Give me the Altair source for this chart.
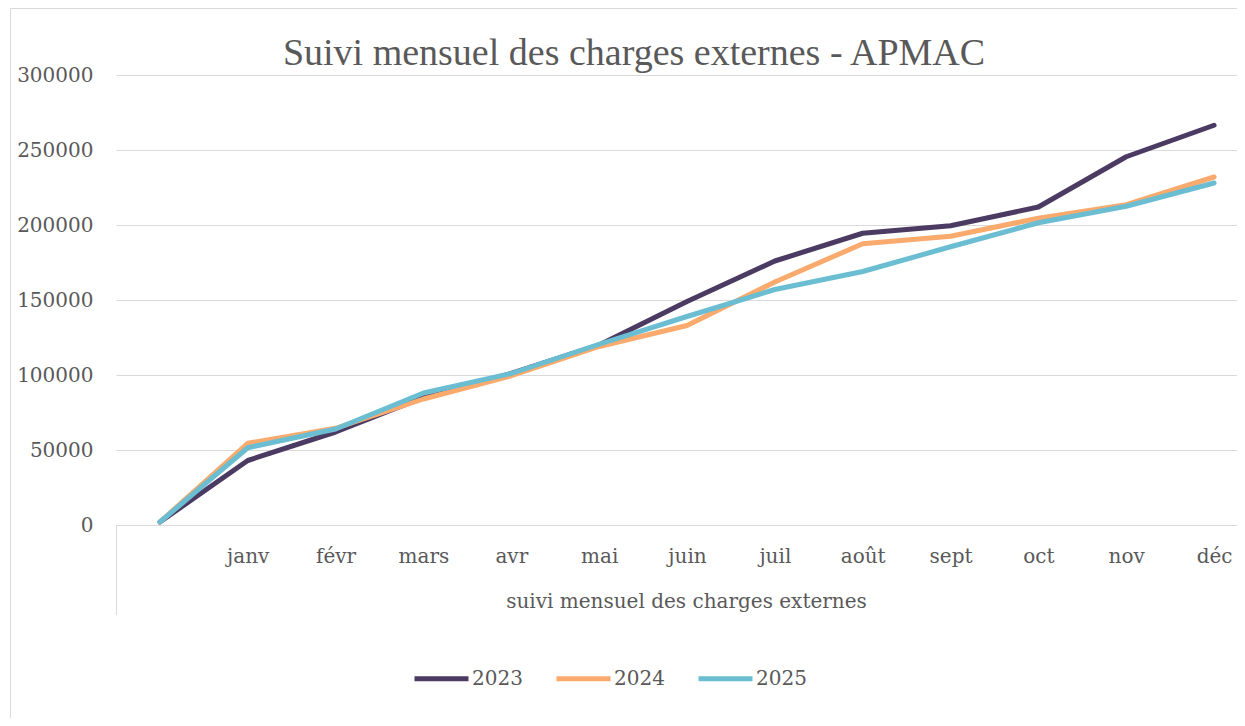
import altair as alt
import pandas as pd

months = [" ", "janv", "févr", "mars", "avr", "mai", "juin", "juil", "août", "sept", "oct", "nov", "déc"]
years = ["2023", "2024", "2025"]
v2023 = [2000, 43000, 62000, 85000, 101000, 120000, 149000, 176000, 194500, 199500, 212000, 245500, 266500]
v2024 = [2000, 54500, 64500, 84000, 99500, 119000, 133000, 162000, 187500, 192500, 204500, 213500, 232000]
v2025 = [2000, 51500, 64000, 88000, 101000, 120500, 139000, 157000, 169000, 185500, 201500, 212500, 228000]
colors = ["#4B3A62", "#F9AA6C", "#6BBDD1"]
y_ticks = [0, 50000, 100000, 150000, 200000, 250000, 300000]
chart_title = "Suivi mensuel des charges externes - APMAC"
x_title = "suivi mensuel des charges externes"

rows = []
for yr, vals in zip(years, [v2023, v2024, v2025]):
    for m, v in zip(months, vals):
        rows.append({"mois": m, "annee": yr, "valeur": v})
df = pd.DataFrame(rows)

W, H = 1121, 450
TEXT = "#595959"
GRID = "#D9D9D9"
FONT = "DejaVu Serif"

x_enc = alt.X(
    "mois:N",
    sort=months,
    scale=alt.Scale(type="point", range=[0, 1142], padding=0.5),
    axis=alt.Axis(
        title=x_title, labelAngle=0, ticks=False, domain=True, domainColor=GRID,
        domainWidth=1, grid=False, labelPadding=21, labelFont=FONT, labelFontSize=20,
        labelColor=TEXT, titleFont=FONT, titleFontSize=20, titleFontWeight="normal",
        titleColor=TEXT, titleX=570, titleY=82, titleBaseline="alphabetic",
        titleAlign="center",
    ),
)
y_enc = alt.Y(
    "valeur:Q",
    scale=alt.Scale(domain=[0, 300000], nice=False),
    axis=alt.Axis(
        values=y_ticks, format="d", title=None, domain=False, ticks=False, grid=True,
        gridColor=GRID, gridWidth=1, labelPadding=23, labelFont=FONT, labelFontSize=20,
        labelColor=TEXT,
    ),
)
color_enc = alt.Color(
    "annee:N",
    scale=alt.Scale(domain=years, range=colors),
    legend=alt.Legend(
        title=None, orient="none", legendX=296, legendY=574, direction="horizontal",
        symbolType="stroke", symbolSize=2916, symbolStrokeWidth=5, labelFont=FONT,
        labelFontSize=20, labelColor=TEXT, labelOffset=1, columnPadding=23, padding=0,
    ),
)

lines = alt.Chart(df).mark_line(strokeWidth=5, strokeCap="round", strokeJoin="round").encode(
    x=x_enc, y=y_enc, color=color_enc
)

one = pd.DataFrame({"t": [chart_title]})
border = alt.Chart(one).mark_rect(fill="transparent", stroke=GRID, strokeWidth=1).encode(
    x=alt.value(-105.5), x2=alt.value(W + 300), y=alt.value(-66.5), y2=alt.value(H + 400)
)
vrule = alt.Chart(one).mark_rule(color=GRID, strokeWidth=1).encode(
    x=alt.value(0.5), y=alt.value(H), y2=alt.value(H + 90)
)
title_text = alt.Chart(one).mark_text(
    font="Liberation Serif", fontSize=38, color=TEXT, align="center", baseline="alphabetic"
).encode(x=alt.value(518), y=alt.value(-10), text="t:N")

chart = alt.layer(border, vrule, lines, title_text).properties(
    width=W, height=H,
    autosize=alt.AutoSizeParams(type="none"),
    padding={"left": 108, "top": 67, "right": 0, "bottom": 193},
).configure_view(stroke=None)

chart.save("out.html", embed_options={"renderer": "svg", "actions": False})
